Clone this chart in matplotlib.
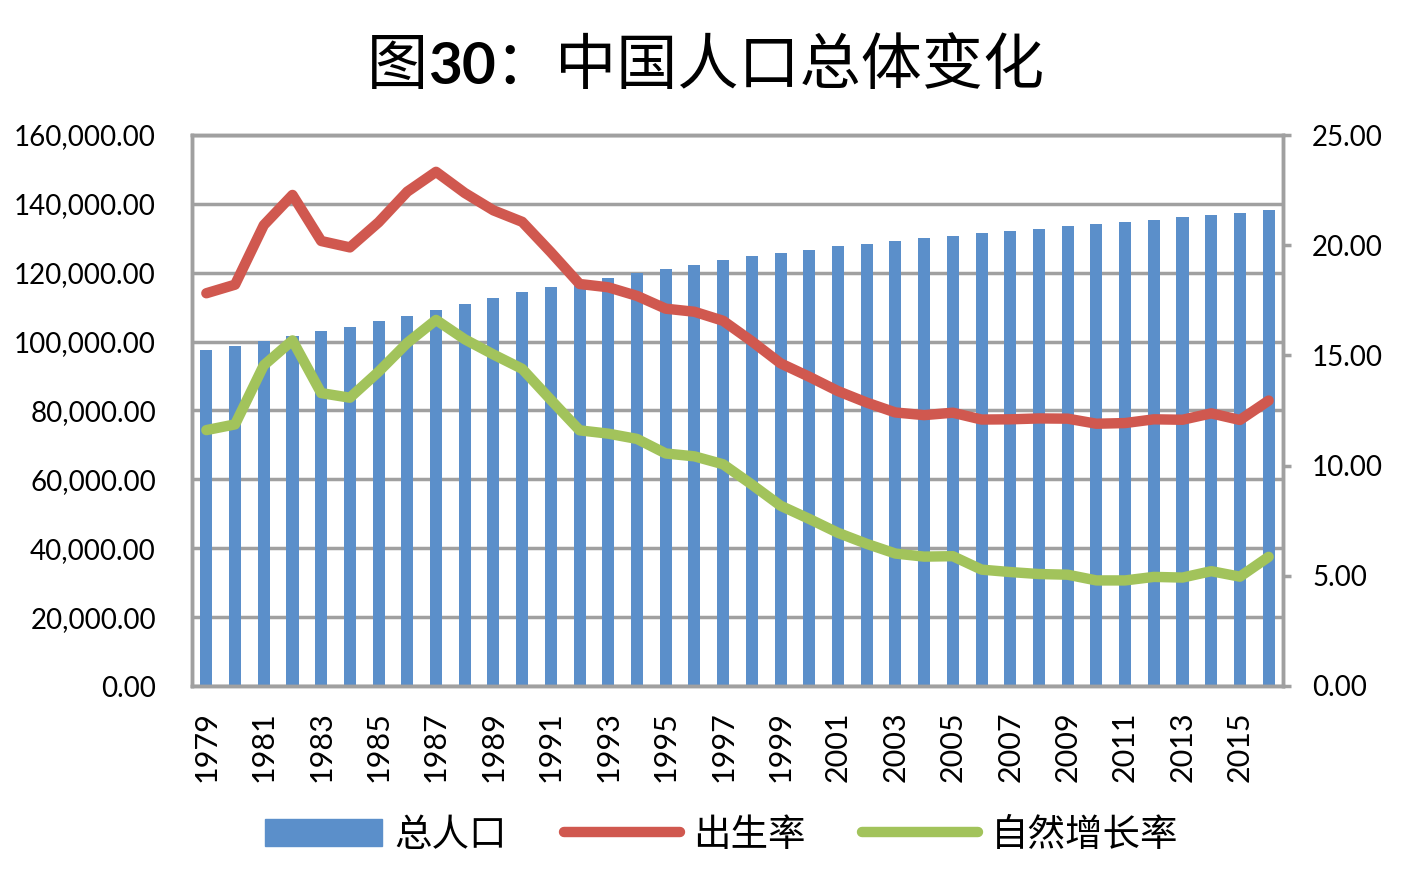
import matplotlib
matplotlib.use('Agg')
import matplotlib.pyplot as plt
import numpy as np
from matplotlib.patches import Patch
from matplotlib.lines import Line2D

plt.rcParams['font.family'] = ['Lato', 'Noto Sans CJK SC', 'DejaVu Sans']

years = list(range(1979, 2017))
population = [97542, 98705, 100072, 101654, 103008, 104357, 105851, 107507, 109300, 111026,
              112704, 114333, 115823, 117171, 118517, 119850, 121121, 122389, 123626, 124761,
              125786, 126743, 127627, 128453, 129227, 129988, 130756, 131448, 132129, 132802,
              133450, 134091, 134735, 135404, 136072, 136782, 137462, 138271]
birth_rate = [17.82, 18.21, 20.91, 22.28, 20.19, 19.90, 21.04, 22.43, 23.33, 22.37,
              21.58, 21.06, 19.68, 18.24, 18.09, 17.70, 17.12, 16.98, 16.57, 15.64,
              14.64, 14.03, 13.38, 12.86, 12.41, 12.29, 12.40, 12.09, 12.10, 12.14,
              12.13, 11.90, 11.93, 12.10, 12.08, 12.37, 12.07, 12.95]
growth_rate = [11.61, 11.87, 14.55, 15.68, 13.29, 13.08, 14.26, 15.57, 16.61, 15.73,
               15.04, 14.39, 12.98, 11.60, 11.45, 11.21, 10.55, 10.42, 10.06, 9.14,
               8.18, 7.58, 6.95, 6.45, 6.01, 5.87, 5.89, 5.28, 5.17, 5.08,
               5.05, 4.79, 4.79, 4.95, 4.92, 5.21, 4.96, 5.86]
series_names = ['总人口', '出生率', '自然增长率']

blue = '#5B8FCA'
red = '#D0584F'
green = '#A2C35B'
grid_gray = '#A0A0A0'
cjk = 'Noto Sans CJK SC'

fig = plt.figure(figsize=(14.08, 8.8), dpi=100)
ax = fig.add_axes([192 / 1408, 1 - 686 / 880, (1283 - 192) / 1408, (686 - 135) / 880])
x = np.arange(len(years))

ax.bar(x, population, width=0.42, color=blue, zorder=2)
ax.set_xlim(-0.5, len(years) - 0.5)
ax.set_ylim(0, 160000)
ax.set_yticks(np.arange(0, 160001, 20000))
ax.set_yticklabels(['{:,.2f}'.format(v) for v in np.arange(0, 160001, 20000)])
ax.yaxis.grid(True, color=grid_gray, linewidth=2.5, zorder=0)
ax.set_axisbelow(True)
ax.tick_params(axis='y', length=0, pad=26, labelsize=20)
ax.set_xticks(x[::2])
ax.set_xticklabels([str(y) for y in years[::2]], rotation=90)
ax.tick_params(axis='x', length=0, pad=18, labelsize=22)
for s in ax.spines.values():
    s.set_color(grid_gray)
    s.set_linewidth(2.5)

ax2 = ax.twinx()
ax2.plot(x, birth_rate, color=red, linewidth=7.5, solid_capstyle='round', solid_joinstyle='round')
ax2.plot(x, growth_rate, color=green, linewidth=7.5, solid_capstyle='round', solid_joinstyle='round')
ax2.set_ylim(0, 25)
ax2.set_yticks(np.arange(0, 26, 5))
ax2.set_yticklabels(['{:.2f}'.format(v) for v in np.arange(0, 26, 5)])
ax2.tick_params(axis='y', length=6, width=2.5, color=grid_gray, pad=15, labelsize=20)
for s in ax2.spines.values():
    s.set_color(grid_gray)
    s.set_linewidth(2.5)

# title: mixed fonts
ty = 1 - 67 / 880
fig.text(367 / 1408, ty, '图', family=cjk, fontsize=44, va='center', ha='left')
fig.text(428 / 1408, ty, '30', fontweight='bold', fontsize=42, va='center', ha='left')
fig.text(494 / 1408, ty, '：中国人口总体变化', family=cjk, fontsize=44, va='center', ha='left')

handles = [Patch(color=blue),
           Line2D([], [], color=red, linewidth=7.5, solid_capstyle='round'),
           Line2D([], [], color=green, linewidth=7.5, solid_capstyle='round')]
fig.legend(handles, series_names, loc='center', bbox_to_anchor=(722 / 1408, 1 - 835 / 880),
           ncol=3, frameon=False, prop={'family': cjk, 'size': 27},
           handlelength=3.1, handletextpad=0.35, columnspacing=1.5)

fig.savefig('out.png', dpi=100)
